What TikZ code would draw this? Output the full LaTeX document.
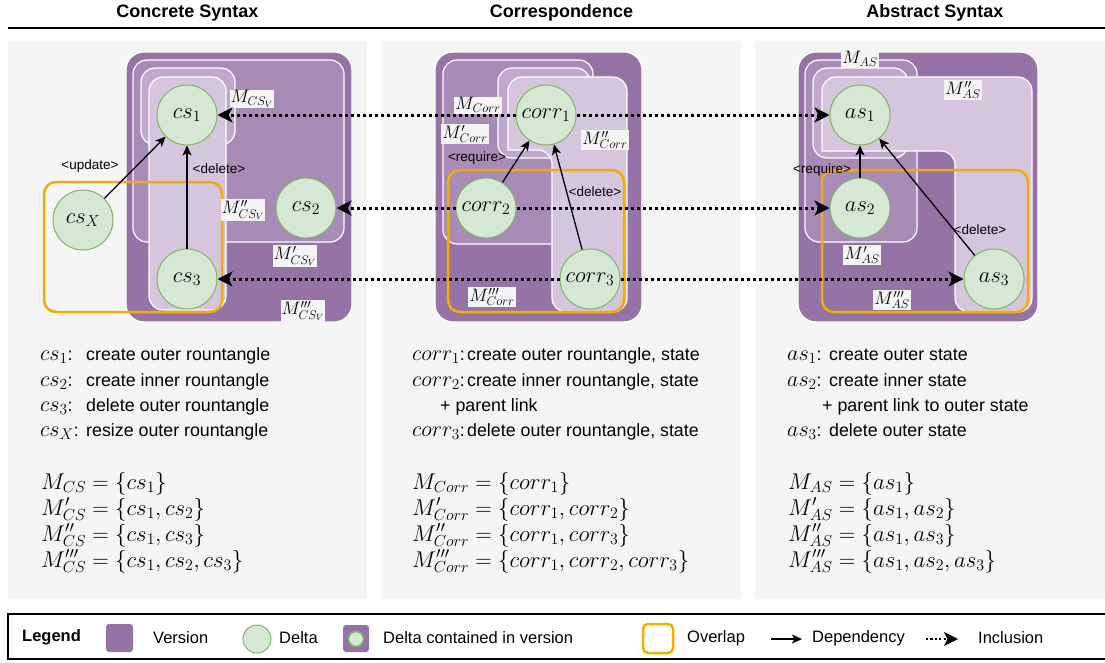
\documentclass[tikz,border=0pt]{standalone}
\usepackage{fix-cm}
\usepackage[no-math]{fontspec}
\setmainfont{Liberation Sans}
\usetikzlibrary{arrows.meta}
\definecolor{pA}{HTML}{9673A6}
\definecolor{pB}{HTML}{A98BB8}
\definecolor{pC}{HTML}{C0A9CC}
\definecolor{pD}{HTML}{D5C6DE}
\definecolor{bgp}{HTML}{F5F5F5}
\definecolor{dfill}{HTML}{D5E8D4}
\definecolor{dstroke}{HTML}{82B366}
\definecolor{ovl}{HTML}{F5AB00}
\newcommand{\mth}[1]{{\fontsize{22}{26}\selectfont$#1$}}
\newcommand{\descrow}[2]{\makebox[#1][l]{#2}}
\begin{document}
\begin{tikzpicture}[x=1pt,y=-1pt,
  ver/.style={draw=white, line width=1.2pt, rounded corners=14pt},
  ovr/.style={draw=ovl, line width=2.5pt, rounded corners=12pt},
  delta/.style={circle, draw=dstroke, line width=1pt, fill=dfill, minimum size=60pt, inner sep=0pt, font=\fontsize{22.5}{26}\selectfont},
  dep/.style={-{Stealth[length=10pt,width=9pt,inset=2.5pt]}, line width=1.3pt},
  incl/.style={-{Stealth[length=15pt,width=15pt,inset=4pt]}, line width=3pt, dash pattern=on 3pt off 3pt},
  mlab/.style={fill=bgp, inner sep=1pt, font=\fontsize{18}{20}\selectfont},
  act/.style={inner sep=0pt, font=\fontsize{13.5}{15}\selectfont},
  ttl/.style={inner sep=0pt, font=\fontsize{18}{22}\selectfont\bfseries},
  dtext/.style={anchor=base west, inner sep=0pt, font=\fontsize{17.8}{21}\selectfont},
  eqn/.style={anchor=base west, inner sep=0pt, font=\fontsize{22.8}{26}\selectfont},
  leg/.style={anchor=west, inner sep=0pt, font=\fontsize{16.5}{19}\selectfont}]
\useasboundingbox (0,0) rectangle (1105,662);
% panels
\fill[bgp] (8,41) rectangle (367,599);
\fill[bgp] (382,41) rectangle (741,599);
\fill[bgp] (755,41) rectangle (1115,599);
\draw[line width=1.2pt] (8,28) -- (1105,28);
\node[ttl] (t1) at (187.5,13) {Concrete Syntax};
\node[ttl] (t2) at (561.5,13) {Correspondence};
\node[ttl] (t3) at (935,13) {Abstract Syntax};
% CS versions
\draw[ver,fill=pA,rounded corners=18pt] (126,52) rectangle (352,322);
\draw[ver,fill=pB] (133,60) rectangle (344,242);
\draw[ver,fill=pC] (141,68) rectangle (235,145);
\draw[ver,fill=pD] (149,77) rectangle (226,310);
\draw[ovr] (44,182) rectangle (222,312);
% Corr versions
\draw[ver,fill=pA,rounded corners=18pt] (435,52) rectangle (642,322);
\draw[ver,fill=pB] (443,60) rectangle (593,244);
\draw[ver,fill=pC] (498,68) rectangle (590,158);
\draw[ver,fill=pD] (508,77) -- (627,77) -- (627,312) -- (552,312) -- (552,150) [sharp corners] -- (508,150) [rounded corners=14pt] -- cycle;
\draw[ovr] (448,170) rectangle (624,312);
% AS versions
\draw[ver,fill=pA,rounded corners=18pt] (798,52) rectangle (1038,322);
\draw[ver,fill=pB] (805,60) rectangle (917,242);
\draw[ver,fill=pC] (813,68) rectangle (908,158);
\draw[ver,fill=pD] (822,77) -- (1032,77) -- (1032,312) -- (955,312) -- (955,151) [sharp corners] -- (822,151) [rounded corners=14pt] -- cycle;
\draw[ovr] (822,170) rectangle (1028,312);
% deltas
\node[delta] (cs1) at (187,115) {$cs_1$};
\node[delta] (cs2) at (306,208) {$cs_2$};
\node[delta] (cs3) at (187,279) {$cs_3$};
\node[delta] (csX) at (83,220) {$cs_X$};
\node[delta] (corr1) at (546,115) {$corr_1$};
\node[delta] (corr2) at (486,208) {$corr_2$};
\node[delta] (corr3) at (590,279) {$corr_3$};
\node[delta] (as1) at (860,115) {$as_1$};
\node[delta] (as2) at (860,208) {$as_2$};
\node[delta] (as3) at (994,279) {$as_3$};
% version labels
\node[mlab] (lcs1) at (252,99) {$M_{CS_V}$};
\node[mlab] (lcs2) at (243,210) {$M''_{CS_V}$};
\node[mlab] (lcs3) at (295,256) {$M'_{CS_V}$};
\node[mlab] (lcs4) at (303,311) {$M'''_{CS_V}$};
\node[mlab] (lco1) at (478,105) {$M_{Corr}$};
\node[mlab] (lco2) at (465,134) {$M'_{Corr}$};
\node[mlab] (lco3) at (605,140) {$M''_{Corr}$};
\node[mlab] (lco4) at (492,297) {$M'''_{Corr}$};
\node[mlab] (las1) at (860,59) {$M_{AS}$};
\node[mlab] (las3) at (963,90) {$M''_{AS}$};
\node[mlab] (las2) at (862,255) {$M'_{AS}$};
\node[mlab] (las4) at (892,300) {$M'''_{AS}$};
% action labels
\node[act] (a1) at (90,166) {\textless update\textgreater};
\node[act] (a2) at (219,169) {\textless delete\textgreater};
\node[act] (a3) at (477,158) {\textless require\textgreater};
\node[act] (a4) at (595,192) {\textless delete\textgreater};
\node[act] (a5) at (822,170) {\textless require\textgreater};
\node[act] (a6) at (980,230) {\textless delete\textgreater};
% dependencies
\draw[dep] (csX) -- (cs1);
\draw[dep] (cs3) -- (cs1);
\draw[dep] (corr2) -- (corr1);
\draw[dep] (corr3) -- (corr1);
\draw[dep] (as2) -- (as1);
\draw[dep] (as3) -- (as1);
% inclusions
\draw[incl] (corr1) -- (cs1);
\draw[incl] (corr1) -- (as1);
\draw[incl] (corr2) -- (cs2);
\draw[incl] (corr2) -- (as2);
\draw[incl] (corr3) -- (cs3);
\draw[incl] (corr3) -- (as3);
% descriptions CS
\node[dtext] (dc1) at (40,360) {\descrow{46pt}{\mth{cs_1}:}create outer rountangle};
\node[dtext] (dc2) at (40,386) {\descrow{46pt}{\mth{cs_2}:}create inner rountangle};
\node[dtext] (dc3) at (40,411) {\descrow{46pt}{\mth{cs_3}:}delete outer rountangle};
\node[dtext] (dc4) at (40,436) {\descrow{46pt}{\mth{cs_X}:}resize outer rountangle};
\node[eqn] (ec1) at (41,489) {$M_{CS} = \{cs_1\}$};
\node[eqn] (ec2) at (41,515) {$M'_{CS} = \{cs_1, cs_2\}$};
\node[eqn] (ec3) at (41,541) {$M''_{CS} = \{cs_1, cs_3\}$};
\node[eqn] (ec4) at (41,567) {$M'''_{CS} = \{cs_1, cs_2, cs_3\}$};
% descriptions Corr
\node[dtext] (do1) at (412,360) {\descrow{55pt}{\mth{corr_1}:}create outer rountangle, state};
\node[dtext] (do2) at (412,386) {\descrow{55pt}{\mth{corr_2}:}create inner rountangle, state};
\node[dtext] (do3) at (440,411) {+ parent link};
\node[dtext] (do4) at (412,436) {\descrow{55pt}{\mth{corr_3}:}delete outer rountangle, state};
\node[eqn] (eo1) at (412,489) {$M_{Corr} = \{corr_1\}$};
\node[eqn] (eo2) at (412,515) {$M'_{Corr} = \{corr_1, corr_2\}$};
\node[eqn] (eo3) at (412,541) {$M''_{Corr} = \{corr_1, corr_3\}$};
\node[eqn] (eo4) at (412,567) {$M'''_{Corr} = \{corr_1, corr_2, corr_3\}$};
% descriptions AS
\node[dtext] (da1) at (787,360) {\descrow{42pt}{\mth{as_1}:}create outer state};
\node[dtext] (da2) at (787,386) {\descrow{42pt}{\mth{as_2}:}create inner state};
\node[dtext] (da3) at (822,411) {+ parent link to outer state};
\node[dtext] (da4) at (787,436) {\descrow{42pt}{\mth{as_3}:}delete outer state};
\node[eqn] (ea1) at (788,489) {$M_{AS} = \{as_1\}$};
\node[eqn] (ea2) at (788,515) {$M'_{AS} = \{as_1, as_2\}$};
\node[eqn] (ea3) at (788,541) {$M''_{AS} = \{as_1, as_3\}$};
\node[eqn] (ea4) at (788,567) {$M'''_{AS} = \{as_1, as_2, as_3\}$};
% legend
\draw[line width=1.1pt] (8,614) rectangle (1112,659);
\node[leg,font=\fontsize{16.5}{19}\selectfont\bfseries] (lg) at (22,637) {Legend};
\fill[pA, rounded corners=3pt] (106,624) rectangle (133,652);
\node[leg] (lv) at (153,638) {Version};
\node[delta, minimum size=28pt] (ld) at (257,639) {};
\node[leg] (ldt) at (279,638) {Delta};
\fill[pA, rounded corners=3pt] (343,625) rectangle (369,652);
\node[delta, minimum size=15pt, line width=1.5pt] (ldc) at (356,639) {};
\node[leg] (ldct) at (383,638) {Delta contained in version};
\draw[ovr, rounded corners=5pt] (643,624) rectangle (673,653);
\node[leg] (lo) at (687,638) {Overlap};
\coordinate (dp1) at (771,639);
\coordinate (dp2) at (802,639);
\draw[dep] (dp1) -- (dp2);
\node[leg] (ldp) at (812,638) {Dependency};
\coordinate (in1) at (926,639);
\coordinate (in2) at (958,639);
\draw[-{Stealth[length=14pt,width=14pt,inset=3.5pt]}, line width=2.2pt, dash pattern=on 2.2pt off 2.2pt] (in1) -- (in2);
\node[leg] (lin) at (978,638) {Inclusion};
\end{tikzpicture}
\end{document}
